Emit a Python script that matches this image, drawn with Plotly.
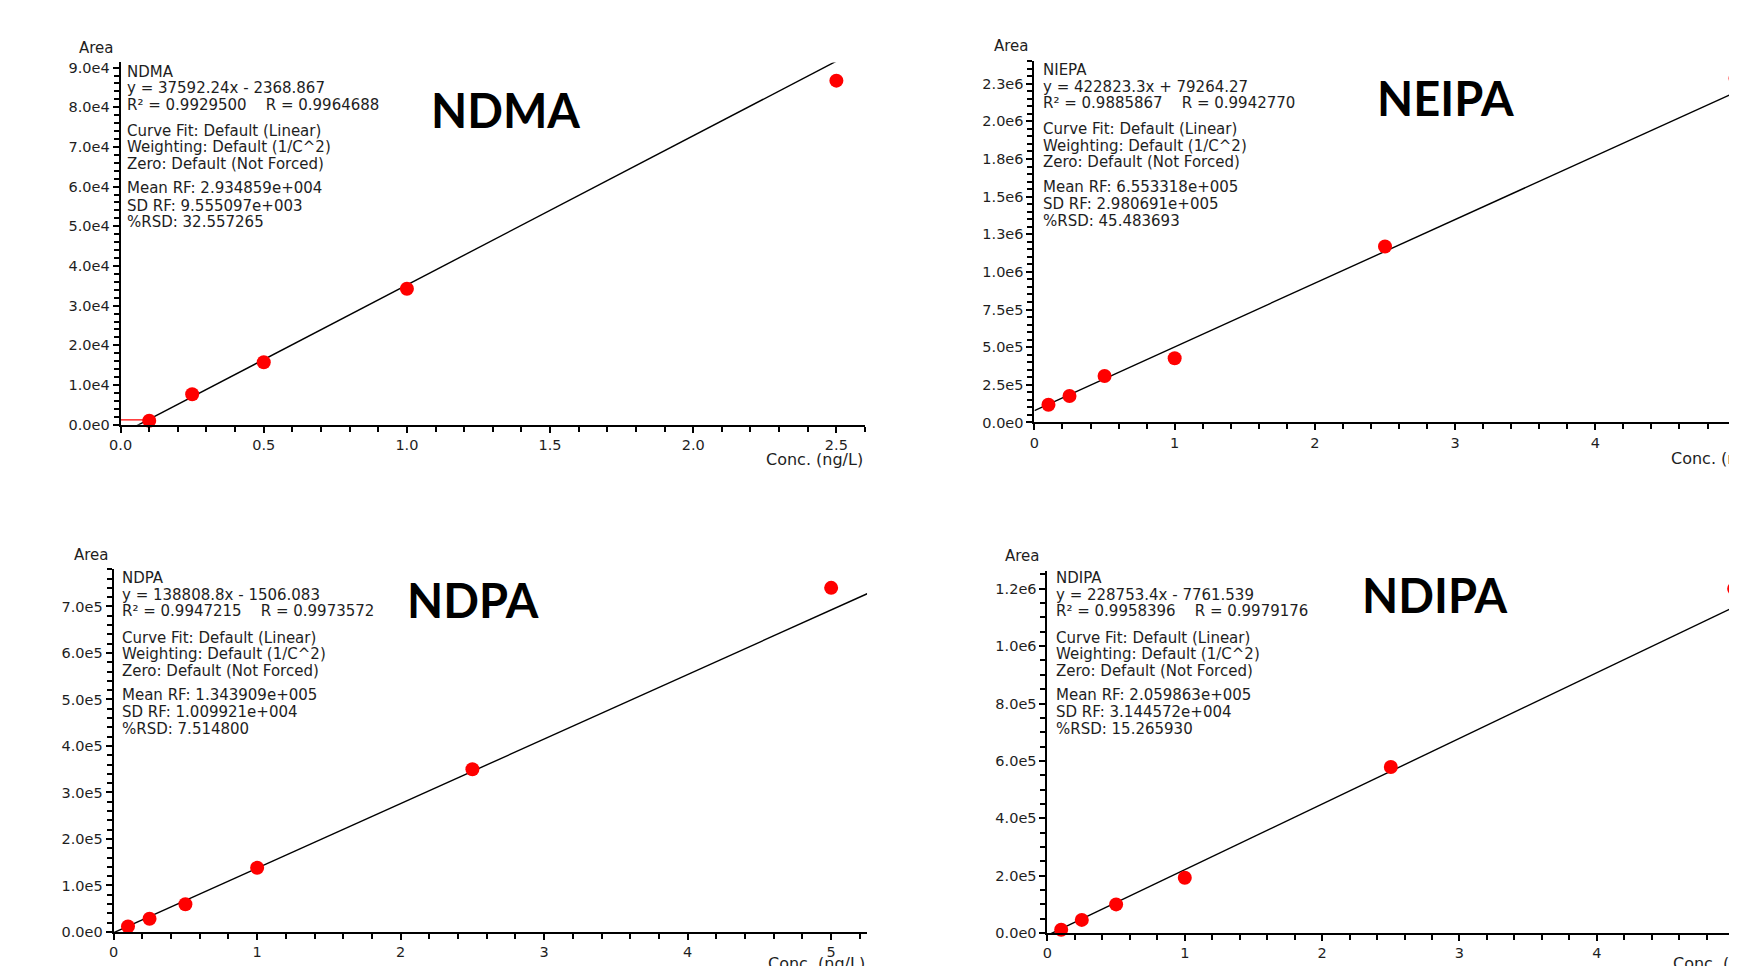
import plotly.graph_objects as go

# ---------------- data ----------------
conc_ndma = [0.1, 0.25, 0.5, 1.0, 2.5]
area_ndma = [1000, 7700, 15750, 34250, 86700]

conc_six = [0.1, 0.25, 0.5, 1.0, 2.5, 5.0]
area_niepa = [118000, 176000, 309000, 426000, 1169000, 2287000]
area_ndpa = [12000, 28600, 59500, 138000, 350000, 740000]
area_ndipa = [11600, 46000, 100000, 193000, 579000, 1200000]

slopes = [37592.24, 422823.3, 138808.8, 228753.4]
intercepts = [-2368.867, 79264.27, -1506.083, -7761.539]

big_labels = ["NDMA", "NEIPA", "NDPA", "NDIPA"]

info_ndma = ["NDMA", "y = 37592.24x - 2368.867", "R\u00b2 = 0.9929500    R = 0.9964688",
             "Curve Fit: Default (Linear)", "Weighting: Default (1/C^2)", "Zero: Default (Not Forced)",
             "Mean RF: 2.934859e+004", "SD RF: 9.555097e+003", "%RSD: 32.557265"]
info_niepa = ["NIEPA", "y = 422823.3x + 79264.27", "R\u00b2 = 0.9885867    R = 0.9942770",
              "Curve Fit: Default (Linear)", "Weighting: Default (1/C^2)", "Zero: Default (Not Forced)",
              "Mean RF: 6.553318e+005", "SD RF: 2.980691e+005", "%RSD: 45.483693"]
info_ndpa = ["NDPA", "y = 138808.8x - 1506.083", "R\u00b2 = 0.9947215    R = 0.9973572",
             "Curve Fit: Default (Linear)", "Weighting: Default (1/C^2)", "Zero: Default (Not Forced)",
             "Mean RF: 1.343909e+005", "SD RF: 1.009921e+004", "%RSD: 7.514800"]
info_ndipa = ["NDIPA", "y = 228753.4x - 7761.539", "R\u00b2 = 0.9958396    R = 0.9979176",
              "Curve Fit: Default (Linear)", "Weighting: Default (1/C^2)", "Zero: Default (Not Forced)",
              "Mean RF: 2.059863e+005", "SD RF: 3.144572e+004", "%RSD: 15.265930"]

xtick_ndma = [0.0, 0.5, 1.0, 1.5, 2.0, 2.5]
xtick_ndma_text = ["0.0", "0.5", "1.0", "1.5", "2.0", "2.5"]
xtick_int = [0, 1, 2, 3, 4, 5]
xtick_int_text = ["0", "1", "2", "3", "4", "5"]

ytick_ndma = [0, 1e4, 2e4, 3e4, 4e4, 5e4, 6e4, 7e4, 8e4, 9e4]
ytick_ndma_text = ["0.0e0", "1.0e4", "2.0e4", "3.0e4", "4.0e4", "5.0e4", "6.0e4", "7.0e4", "8.0e4", "9.0e4"]
ytick_niepa = [0, 2.5e5, 5e5, 7.5e5, 1e6, 1.25e6, 1.5e6, 1.75e6, 2e6, 2.25e6]
ytick_niepa_text = ["0.0e0", "2.5e5", "5.0e5", "7.5e5", "1.0e6", "1.3e6", "1.5e6", "1.8e6", "2.0e6", "2.3e6"]
ytick_ndpa = [0, 1e5, 2e5, 3e5, 4e5, 5e5, 6e5, 7e5]
ytick_ndpa_text = ["0.0e0", "1.0e5", "2.0e5", "3.0e5", "4.0e5", "5.0e5", "6.0e5", "7.0e5"]
ytick_ndipa = [0, 2e5, 4e5, 6e5, 8e5, 1e6, 1.2e6]
ytick_ndipa_text = ["0.0e0", "2.0e5", "4.0e5", "6.0e5", "8.0e5", "1.0e6", "1.2e6"]

# ---------------- layout geometry (pixels) ----------------
W, H = 1737, 966
def px(x):
    return x / W
def py(y):
    return 1 - y / H

# x0: pixel column of x=0, unit: pixels per x unit, yb/yt: pixel rows of axis bottom/top
panels = [
    dict(conc=conc_ndma, area=area_ndma, shift=(-15, -8), x0=116.3, unit=288.3, xmax=2.6,
         yb=426.5, yt=60.0, yr=[0, 91300],
         xt=xtick_ndma, xtt=xtick_ndma_text, xminor=0.1, yt_=ytick_ndma, ytt=ytick_ndma_text, yminor=2000,
         info=info_ndma, info_pos=(121, 69.3), big_pos=(504, 108.6), area_pos=(92, 45.4),
         conc_pos=(866, 462, "right")),
    dict(conc=conc_six, area=area_niepa, shift=(-11, -9), x0=1032.5, unit=141.2, xmax=None,
         yb=425.2, yt=59.7, yr=[0, 2.4e6],
         xt=xtick_int, xtt=xtick_int_text, xminor=0.2, yt_=ytick_niepa, ytt=ytick_niepa_text, yminor=50000,
         info=info_niepa, info_pos=(1039, 68.7), big_pos=(1446, 97.5), area_pos=(1009, 44.3),
         conc_pos=(1671.6, 461.5, "left")),
    dict(conc=conc_six, area=area_ndpa, shift=(-16.5, -3), x0=110.8, unit=144.5, xmax=5.25,
         yb=934.6, yt=567.7, yr=[0, 7.8e5],
         xt=xtick_int, xtt=xtick_int_text, xminor=0.2, yt_=ytick_ndpa, ytt=ytick_ndpa_text, yminor=20000,
         info=info_ndpa, info_pos=(117.6, 577), big_pos=(473, 599), area_pos=(88.6, 552.8),
         conc_pos=(869.6, 966, "right")),
    dict(conc=conc_six, area=area_ndipa, shift=(-10, -3), x0=1044.6, unit=138.3, xmax=None,
         yb=935.7, yt=569.4, yr=[0, 1.262e6],
         xt=xtick_int, xtt=xtick_int_text, xminor=0.2, yt_=ytick_ndipa, ytt=ytick_ndipa_text, yminor=50000,
         info=info_ndipa, info_pos=(1051.5, 577), big_pos=(1434.6, 594), area_pos=(1019, 554),
         conc_pos=(1672.8, 966, "left")),
]

line_offsets = [0, 16.7, 33.3, 60, 76.7, 93.5, 118, 135.5, 152.5]

FONT = "DejaVu Sans"
TXT = "#1e1e1e"

fig = go.Figure()
annotations = []
layout_axes = {}

for i, p in enumerate(panels):
    n = i + 1
    xa = "x" if n == 1 else f"x{n}"
    ya = "y" if n == 1 else f"y{n}"
    sx, sy = p["shift"]
    x0 = p["x0"] + sx
    yb = p["yb"] + sy
    yt = p["yt"] + sy
    if p["xmax"] is None:
        x1 = W
        xmax = (x1 - x0) / p["unit"]
    else:
        xmax = p["xmax"]
        x1 = x0 + xmax * p["unit"]
    xr = [0, xmax]
    # fitted line across the axis range
    xs = [0, xmax * 1.02]
    ys = [slopes[i] * v + intercepts[i] for v in xs]
    fig.add_trace(go.Scatter(x=xs, y=ys, mode="lines", line=dict(color="black", width=1.4),
                             xaxis=xa, yaxis=ya, showlegend=False, hoverinfo="skip"))
    fig.add_trace(go.Scatter(x=p["conc"], y=p["area"], mode="markers",
                             marker=dict(color="#ff0000", size=14, line=dict(width=0)),
                             xaxis=xa, yaxis=ya, showlegend=False, cliponaxis=False))
    axkw = dict(showline=True, linecolor="black", linewidth=2, showgrid=False, zeroline=False,
                ticks="outside", ticklen=6, tickwidth=1.5, tickcolor="black",
                tickfont=dict(family=FONT, size=14.5, color=TXT), fixedrange=True)
    xkey = "xaxis" if n == 1 else f"xaxis{n}"
    ykey = "yaxis" if n == 1 else f"yaxis{n}"
    layout_axes[xkey] = dict(axkw, domain=[px(x0), min(px(x1), 1.0)], range=xr, anchor=ya,
                             tickmode="array", tickvals=p["xt"], ticktext=p["xtt"],
                             minor=dict(ticks="outside", ticklen=5, tickwidth=1.5, tickcolor="black",
                                        tickmode="linear", tick0=0, dtick=p["xminor"]))
    layout_axes[ykey] = dict(axkw, domain=[py(yb), py(yt)], range=p["yr"], anchor=xa,
                             tickmode="array", tickvals=p["yt_"], ticktext=p["ytt"],
                             minor=dict(ticks="outside", ticklen=5, tickwidth=1.5, tickcolor="black",
                                        tickmode="linear", tick0=0, dtick=p["yminor"]))
    # info text block
    ix, iy = p["info_pos"]
    for k, line in enumerate(p["info"]):
        annotations.append(dict(text=line, x=px(ix + sx), y=py(iy + sy + line_offsets[k]),
                                xref="paper", yref="paper",
                                xanchor="left", yanchor="middle", showarrow=False,
                                font=dict(family=FONT, size=15, color=TXT)))
    # big compound label
    bx, by = p["big_pos"]
    annotations.append(dict(text="<b>" + big_labels[i] + "</b>", x=px(bx + sx), y=py(by + sy),
                            xref="paper", yref="paper",
                            xanchor="center", yanchor="middle", showarrow=False,
                            font=dict(family="Lato", size=47, color="black")))
    # axis titles
    ax_, ay_ = p["area_pos"]
    annotations.append(dict(text="Area", x=px(ax_ + sx), y=py(ay_ + sy), xref="paper", yref="paper",
                            xanchor="center", yanchor="middle", showarrow=False,
                            font=dict(family=FONT, size=15, color=TXT)))
    cx, cy, anc = p["conc_pos"]
    annotations.append(dict(text="Conc. (ng/L)", x=px(cx + sx), y=py(cy + sy), xref="paper", yref="paper",
                            xanchor=anc, yanchor="middle", showarrow=False,
                            font=dict(family=FONT, size=16, color=TXT)))

# small red baseline marks near the origin
fig.add_trace(go.Scatter(x=[-0.04, 0.1], y=[1200, 1200], mode="lines", line=dict(color="#ff0000", width=1.3),
                         xaxis="x", yaxis="y", showlegend=False, cliponaxis=False, hoverinfo="skip"))
fig.add_trace(go.Scatter(x=[-0.05, 0.0], y=[0, 0], mode="lines", line=dict(color="#ff0000", width=1.3),
                         xaxis="x3", yaxis="y3", showlegend=False, cliponaxis=False, hoverinfo="skip"))

fig.update_layout(width=W, height=H, margin=dict(l=0, r=0, t=0, b=0),
                  paper_bgcolor="white", plot_bgcolor="white", showlegend=False,
                  annotations=annotations, **layout_axes)

fig.write_html("out.html", config={"displayModeBar": False})
